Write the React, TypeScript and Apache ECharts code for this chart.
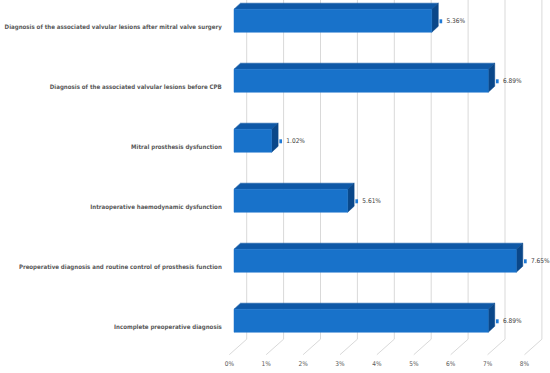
import React, { useEffect, useRef } from "react";
import * as echarts from "echarts";

const categories = [
  "Diagnosis of the associated valvular lesions after mitral valve surgery",
  "Diagnosis of the associated valvular lesions before CPB",
  "Mitral prosthesis dysfunction",
  "Intraoperative haemodynamic dysfunction",
  "Preoperative diagnosis and routine control of prosthesis function",
  "Incomplete preoperative diagnosis",
];
// bar lengths as drawn in the picture (%)
const barValues = [5.36, 6.89, 1.02, 3.08, 7.65, 6.89];
// data labels printed next to the bars (%)
const labelValues = [5.36, 6.89, 1.02, 5.61, 7.65, 6.89];
const xTicks = [0, 1, 2, 3, 4, 5, 6, 7, 8];

const FONT = "'Liberation Sans Narrow', 'DejaVu Sans Condensed', 'Liberation Sans', sans-serif";

export default function App() {
  const ref = useRef<HTMLDivElement>(null);
  useEffect(() => {
    if (!ref.current) return;
    const chart = echarts.init(ref.current, null, { renderer: "svg" });
    const option: any = {
      animation: false,
      backgroundColor: "#ffffff",
      grid: {
        left: 229.3,
        right: 25.5,
        top: -9.3,
        bottom: 22.3,
        containLabel: false,
        outerBoundsMode: "none",
      },
      xAxis: {
        type: "value",
        min: 0,
        max: 8,
        interval: 1,
        axisLine: { show: false },
        axisTick: { show: false },
        splitLine: { show: false },
        axisLabel: {
          formatter: "{value}%",
          fontSize: 6.5,
          fontFamily: FONT,
          color: "#595959",
          margin: 10,
        },
      },
      yAxis: {
        type: "category",
        inverse: true,
        data: categories,
        axisLine: { show: false },
        axisTick: { show: false },
        splitLine: { show: false },
        axisLabel: {
          fontSize: 6.1,
          fontWeight: "bold",
          fontFamily: FONT,
          color: "#595959",
          margin: 7.5,
          verticalAlign: "top",
          lineHeight: 11,
        },
      },
      series: [
        {
          type: "custom",
          silent: true,
          z: 1,
          data: xTicks.map((t) => [t, 0]),
          renderItem: (params: any, api: any) => {
            const cs = params.coordSys;
            const p = api.coord([api.value(0), 0]);
            const floorFront = cs.y + cs.height + 4;
            const floorBack = floorFront - 15.5;
            const bx = p[0] + 17.4;
            const style = { stroke: "#d9d9d9", lineWidth: 1, fill: null };
            return {
              type: "group",
              children: [
                { type: "line", shape: { x1: bx, y1: cs.y + 9.3, x2: bx, y2: floorBack }, style },
                { type: "line", shape: { x1: bx, y1: floorBack, x2: p[0], y2: floorFront }, style },
              ],
            };
          },
        },
        {
          type: "custom",
          z: 2,
          data: barValues.map((v, i) => [v, i, labelValues[i]]),
          renderItem: (params: any, api: any) => {
            const idx = api.value(1);
            const start = api.coord([0, idx]);
            const end = api.coord([api.value(0), idx]);
            const h = api.size([0, 1])[1] * 0.385;
            const x0 = start[0] + 4.7;
            const x1 = end[0] + 4.7;
            const yc = end[1];
            const yT = yc - h / 2;
            const yB = yc + h / 2;
            const dx = 6.5;
            const dy = -6;
            return {
              type: "group",
              children: [
                {
                  type: "polygon",
                  shape: { points: [[x0, yT], [x0 + dx, yT + dy], [x1 + dx, yT + dy], [x1, yT]] },
                  style: { fill: "#0f58a6", stroke: "#0f58a6", lineWidth: 0.5 },
                },
                {
                  type: "polygon",
                  shape: { points: [[x1, yT], [x1 + dx, yT + dy], [x1 + dx, yB + dy], [x1, yB]] },
                  style: { fill: "#0a4789", stroke: "#0a4789", lineWidth: 0.5 },
                },
                {
                  type: "rect",
                  shape: { x: x0, y: yT, width: x1 - x0, height: h },
                  style: { fill: "#1872ca", stroke: "#1872ca", lineWidth: 0.5 },
                },
                {
                  type: "rect",
                  shape: { x: x1 + 7.7, y: yc - 1.4, width: 2.7, height: 4 },
                  style: { fill: "#1f7ad6" },
                },
                {
                  type: "text",
                  x: x1 + 14.7,
                  y: yc + 0.6,
                  style: {
                    text: api.value(2).toFixed(2) + "%",
                    fontSize: 6.5,
                    fontFamily: FONT,
                    fill: "#404040",
                    align: "left",
                    verticalAlign: "middle",
                  },
                },
              ],
            };
          },
        },
      ],
    };
    chart.setOption(option);
    return () => chart.dispose();
  }, []);
  return (
    <div
      ref={ref}
      style={{ position: "fixed", left: 0, top: 0, width: 550, height: 373 }}
    />
  );
}
